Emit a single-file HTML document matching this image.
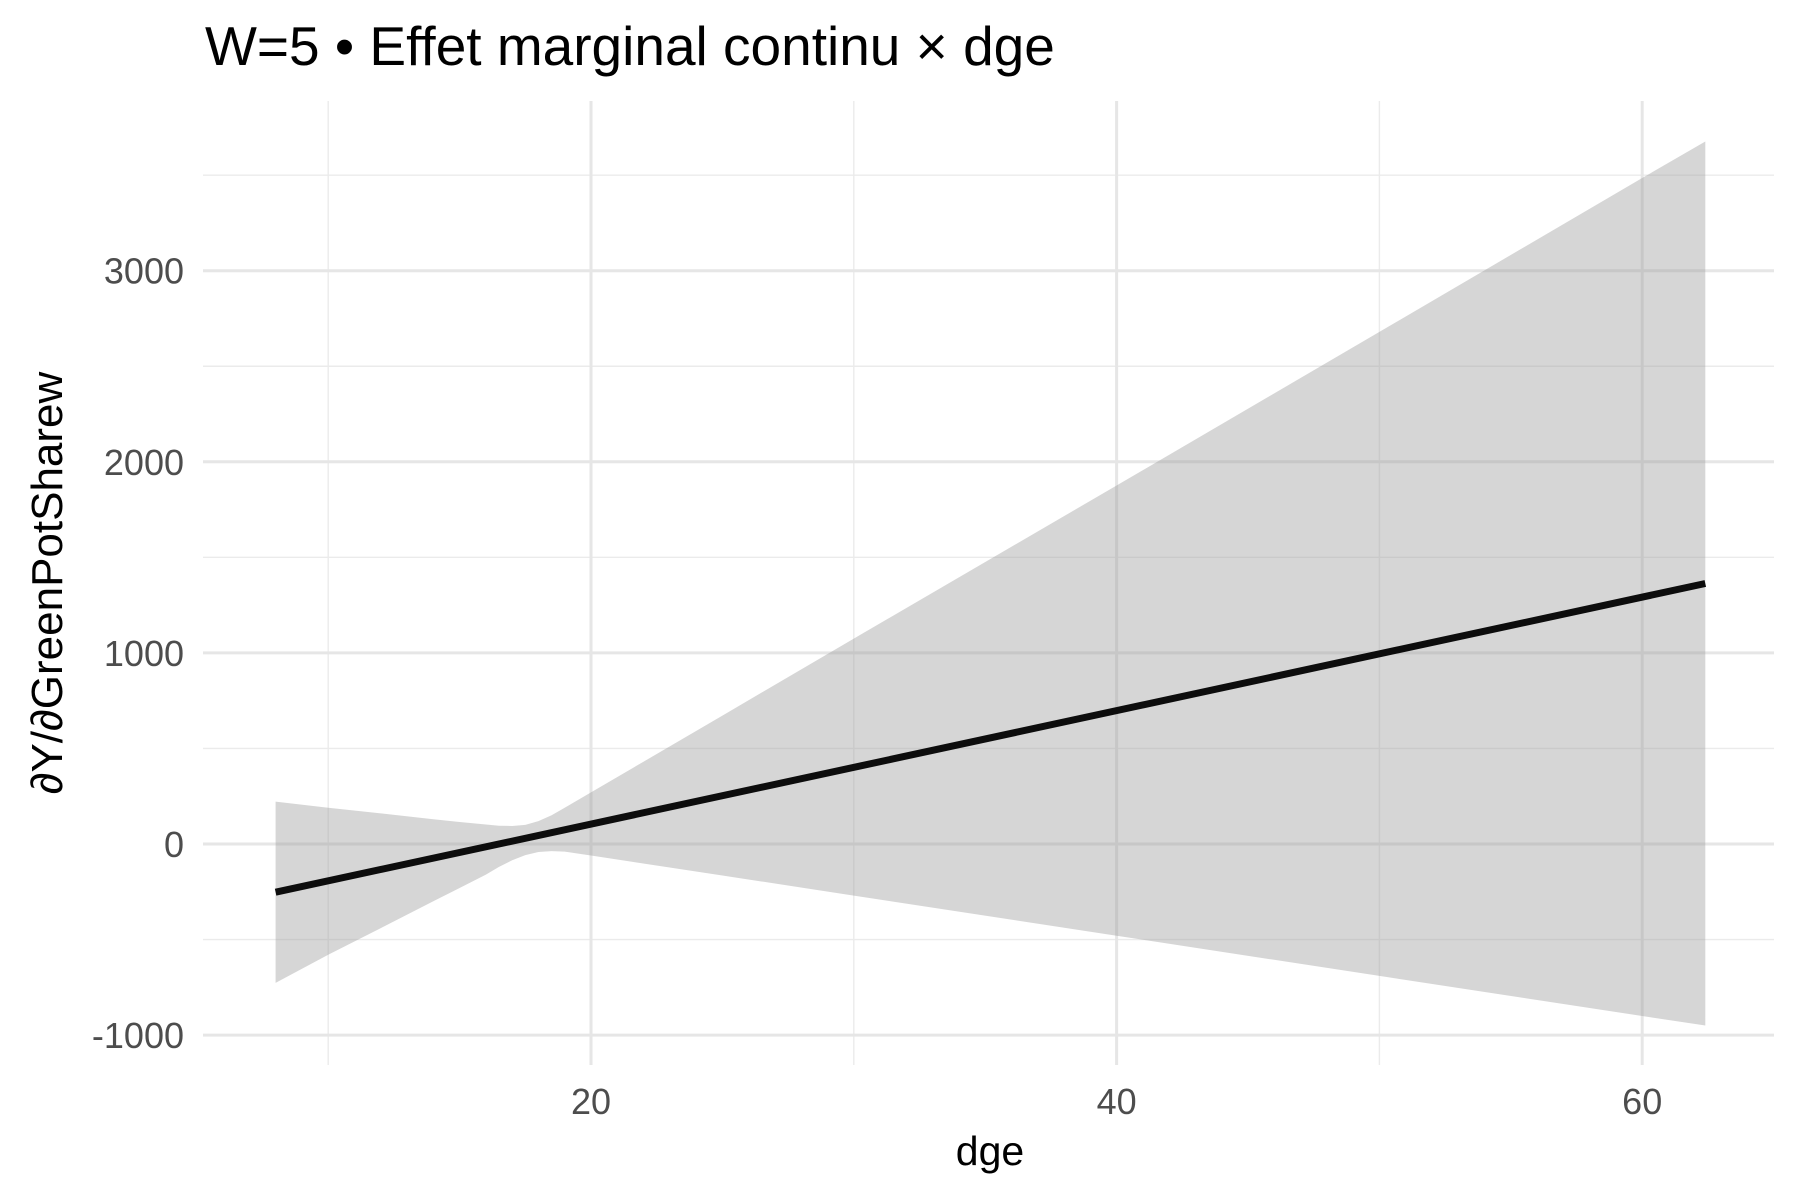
<!DOCTYPE html>
<html><head><meta charset="utf-8"><style>
html,body{margin:0;padding:0;background:#fff;}
svg{display:block;font-family:"Liberation Sans",sans-serif;}
</style></head><body>
<svg id="chart" width="1800" height="1200" viewBox="0 0 1800 1200">
<g id="grid"></g>
<g id="band"></g>
<g id="line"></g>
<g id="yticks"></g>
<g id="xticks"></g>
<text x="205" y="65" font-size="55" fill="#000">W=5 • Effet marginal continu × dge</text>
<text x="990" y="1165" font-size="41" fill="#000" text-anchor="middle">dge</text>
<text transform="translate(62,583) rotate(-90)" font-size="44" fill="#000" text-anchor="middle">∂Y/∂GreenPotSharew</text>
</svg>
<script>
const bandX = [8, 10, 12, 14, 15, 16, 16.5, 17, 17.5, 18, 18.5, 19, 20, 25, 30, 40, 50, 60, 62.4];
const bandUpper = [222, 190, 160, 130, 115, 102, 96, 94, 100, 120, 150, 190, 270, 672, 1075, 1876, 2680, 3485, 3676];
const bandLower = [-727, -580, -440, -300, -230, -160, -120, -85, -58, -42, -37, -40, -60, -165, -270, -480, -690, -900, -950];
const lineX = [8, 62.4];
const lineY = [-252, 1363];
const xTicks = [20, 40, 60];
const xMinor = [10, 30, 50];
const yTicks = [-1000, 0, 1000, 2000, 3000];
const yMinor = [-500, 500, 1500, 2500, 3500];

const L = 203, R = 1774, T = 101, B = 1065;
function sx(v){ return 591 + (v - 20) * 26.28; }
function sy(v){ return 844 - v * 0.1911; }
const NS = 'http://www.w3.org/2000/svg';
function mk(tag, parent){ const e = document.createElementNS(NS, tag); parent.appendChild(e); return e; }

const grid = document.getElementById('grid');
yMinor.forEach(v => {
  const l = mk('line', grid);
  l.setAttribute('x1', L); l.setAttribute('x2', R); l.setAttribute('y1', sy(v)); l.setAttribute('y2', sy(v));
  l.setAttribute('stroke', '#ebebeb'); l.setAttribute('stroke-width', '1.4');
  
  
});
xMinor.forEach(v => {
  const l = mk('line', grid);
  l.setAttribute('x1', sx(v)); l.setAttribute('x2', sx(v)); l.setAttribute('y1', T); l.setAttribute('y2', B);
  l.setAttribute('stroke', '#ebebeb'); l.setAttribute('stroke-width', '1.4');
  
  
});
yTicks.forEach(v => {
  const l = mk('line', grid);
  l.setAttribute('x1', L); l.setAttribute('x2', R); l.setAttribute('y1', sy(v)); l.setAttribute('y2', sy(v));
  l.setAttribute('stroke', '#e6e6e6'); l.setAttribute('stroke-width', '3');
  
  
  const t = mk('text', document.getElementById('yticks'));
  t.setAttribute('x', 184); t.setAttribute('y', sy(v) + 13);
  t.setAttribute('text-anchor', 'end'); t.setAttribute('font-size', '36'); t.setAttribute('fill', '#4d4d4d');
  t.textContent = v;
  
  
});
xTicks.forEach(v => {
  const l = mk('line', grid);
  l.setAttribute('x1', sx(v)); l.setAttribute('x2', sx(v)); l.setAttribute('y1', T); l.setAttribute('y2', B);
  l.setAttribute('stroke', '#e6e6e6'); l.setAttribute('stroke-width', '3');
  
  
  const t = mk('text', document.getElementById('xticks'));
  t.setAttribute('x', sx(v)); t.setAttribute('y', 1114);
  t.setAttribute('text-anchor', 'middle'); t.setAttribute('font-size', '36'); t.setAttribute('fill', '#4d4d4d');
  t.textContent = v;
  
  
});

let d = '';
bandX.forEach((x, i) => { d += (i ? 'L' : 'M') + sx(x).toFixed(1) + ',' + sy(bandUpper[i]).toFixed(1); });
for (let i = bandX.length - 1; i >= 0; i--) d += 'L' + sx(bandX[i]).toFixed(1) + ',' + sy(bandLower[i]).toFixed(1);
d += 'Z';
const band = mk('path', document.getElementById('band'));
band.setAttribute('d', d);
band.setAttribute('fill', 'rgba(153,153,153,0.4)');
band.setAttribute('stroke-linejoin', 'round');



const ln = mk('polyline', document.getElementById('line'));
ln.setAttribute('points', lineX.map((x, i) => sx(x).toFixed(1) + ',' + sy(lineY[i]).toFixed(1)).join(' '));
ln.setAttribute('fill', 'none'); ln.setAttribute('stroke', '#0d0d0d'); ln.setAttribute('stroke-width', '7');


</script>
</body></html>
